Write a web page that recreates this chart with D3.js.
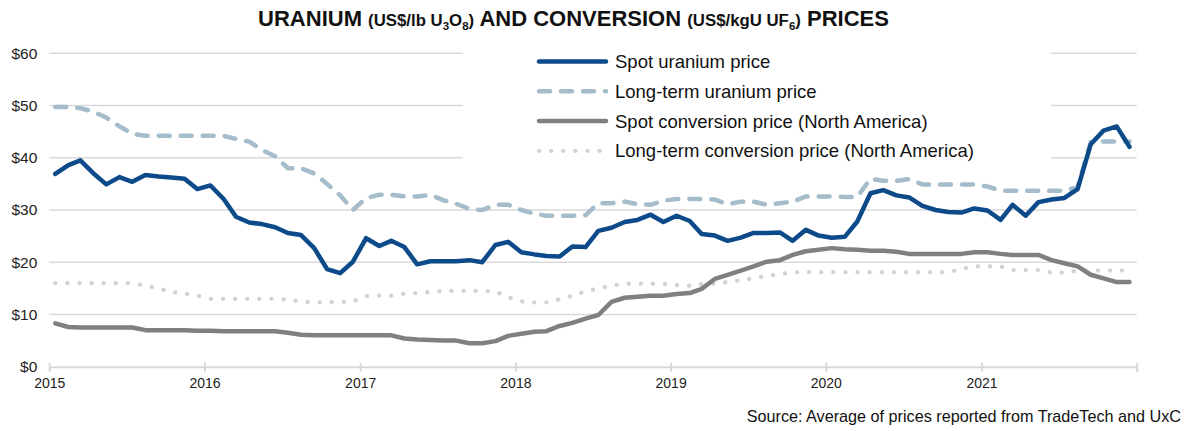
<!DOCTYPE html>
<html>
<head>
<meta charset="utf-8">
<script src="https://cdn.jsdelivr.net/npm/d3@7"></script>
<style>
    body { margin: 0; background: #fff; }
    svg { display: block; font-family: 'Liberation Sans', Arial, sans-serif; }
    .grid line { stroke: #d9d9d9; stroke-width: 1.5; }
    .axis-x path, .axis-x line { stroke: #d9d9d9; stroke-width: 2; }
    .axis-x text { font-size: 14px; fill: #222; }
    .axis-y text { font-size: 15.5px; fill: #222; }
    .line_spot_u { fill: none; stroke: #0d4a8a; stroke-width: 4.5; stroke-linejoin: round; stroke-linecap: round; }
    .line_lt_u { fill: none; stroke: #a5bccb; stroke-width: 4.5; stroke-dasharray: 11 11; stroke-linecap: round; }
    .line_spot_c { fill: none; stroke: #808080; stroke-width: 4.5; stroke-linejoin: round; stroke-linecap: round; }
    .line_lt_c { fill: none; stroke: #d2d2d2; stroke-width: 4.3; stroke-dasharray: 0.1 12; stroke-linecap: round; }
</style>
</head>
<body>
<svg id="chart" width="1193" height="431"></svg>
<script>
// Monthly prices, Jan 2015 - Dec 2021
const startYear = 2015;
const yearLabels = ['2015', '2016', '2017', '2018', '2019', '2020', '2021'];
const yTicks = [0, 10, 20, 30, 40, 50, 60];

const spotUranium = [
    36.9, 38.6, 39.5, 37.0, 34.9, 36.3, 35.4, 36.7, 36.4, 36.2, 36.0, 34.0,
    34.7, 32.1, 28.7, 27.6, 27.3, 26.7, 25.6, 25.2, 22.7, 18.7, 17.9, 20.1,
    24.6, 23.1, 24.1, 22.9, 19.6, 20.2, 20.2, 20.2, 20.4, 20.0, 23.3, 23.9,
    21.9, 21.5, 21.2, 21.1, 23.0, 22.9, 26.0, 26.6, 27.7, 28.1, 29.1, 27.7,
    28.9, 27.9, 25.4, 25.1, 24.1, 24.7, 25.6, 25.6, 25.7, 24.1, 26.2, 25.1,
    24.7, 24.9, 27.8, 33.2, 33.8, 32.8, 32.4, 30.8, 30.0, 29.6, 29.5, 30.3,
    29.9, 28.1, 31.0, 28.9, 31.5, 32.0, 32.3, 34.0, 42.6, 45.2, 46.0, 42.1
];
const longTermUranium = [
    49.7, 49.7, 49.5, 48.8, 47.7, 46.0, 44.6, 44.2, 44.2, 44.2, 44.2, 44.2,
    44.2, 44.2, 43.6, 43.1, 41.5, 40.3, 38.0, 38.0, 37.0, 35.0, 32.8, 30.0,
    32.3, 32.9, 32.9, 32.6, 32.6, 32.9, 31.9, 31.2, 30.2, 30.0, 31.0, 31.0,
    30.0, 29.3, 28.9, 28.9, 28.9, 29.0, 31.3, 31.3, 31.6, 31.1, 31.0, 31.8,
    32.1, 32.1, 32.1, 32.0, 31.1, 31.6, 31.6, 31.0, 31.3, 31.6, 32.6, 32.6,
    32.6, 32.5, 32.5, 36.0, 35.6, 35.6, 35.9, 34.9, 34.9, 34.9, 34.9, 34.9,
    34.5, 33.7, 33.7, 33.7, 33.7, 33.7, 33.7, 34.4, 43.0, 43.1, 43.1, 43.1
];
const spotConversion = [
    8.3, 7.6, 7.5, 7.5, 7.5, 7.5, 7.5, 7.0, 7.0, 7.0, 7.0, 6.9,
    6.9, 6.8, 6.8, 6.8, 6.8, 6.8, 6.5, 6.1, 6.0, 6.0, 6.0, 6.0,
    6.0, 6.0, 6.0, 5.4, 5.2, 5.1, 5.0, 5.0, 4.5, 4.5, 4.9, 5.9,
    6.3, 6.7, 6.8, 7.8, 8.4, 9.2, 9.9, 12.4, 13.2, 13.4, 13.6, 13.6,
    13.9, 14.1, 14.9, 16.8, 17.6, 18.4, 19.2, 20.1, 20.4, 21.4, 22.1, 22.4,
    22.7, 22.5, 22.4, 22.2, 22.2, 22.0, 21.6, 21.6, 21.6, 21.6, 21.6, 21.9,
    21.9, 21.6, 21.4, 21.4, 21.4, 20.4, 19.8, 19.2, 17.6, 16.9, 16.2, 16.2
];
const longTermConversion = [
    16.0, 16.0, 16.0, 16.0, 16.0, 16.0, 16.0, 15.5, 15.0, 14.3, 14.0, 13.6,
    13.0, 13.0, 13.0, 13.0, 13.0, 13.0, 12.8, 12.5, 12.3, 12.3, 12.4, 12.5,
    13.5, 13.6, 13.6, 14.0, 14.1, 14.3, 14.5, 14.5, 14.5, 14.5, 14.4, 13.3,
    12.5, 12.3, 12.3, 12.9, 13.6, 14.4, 15.0, 15.5, 15.9, 15.9, 15.9, 15.9,
    15.6, 15.5, 15.8, 15.9, 16.2, 16.6, 16.9, 17.4, 17.7, 18.1, 18.1, 18.1,
    18.1, 18.1, 18.1, 18.1, 18.1, 18.1, 18.1, 18.1, 18.1, 18.1, 18.7, 19.2,
    19.2, 19.2, 18.5, 18.5, 18.5, 18.0, 18.0, 18.4, 18.4, 18.4, 18.4, 18.4
];

const seriesNames = [
    'Spot uranium price',
    'Long-term uranium price',
    'Spot conversion price (North America)',
    'Long-term conversion price (North America)'
];
const seriesClasses = ['line_spot_u', 'line_lt_u', 'line_spot_c', 'line_lt_c'];

class PriceChart {
    constructor (_parentElement) {
        this.parentElement = _parentElement;
        this.initViz();
    };

    initViz () {
        var viz = this;

        viz.svg = d3.select(viz.parentElement);
        viz.left = 49.3;
        viz.right = 1136.7;
        viz.top = 53.3;
        viz.bottom = 366.7;

        // one row per month, dated mid-month
        viz.data = spotUranium.map((v, i) => ({
            date: new Date(startYear, i, 15),
            spotU: v,
            ltU: longTermUranium[i],
            spotC: spotConversion[i],
            ltC: longTermConversion[i]
        }));

        // Set scales
        viz.xScale = d3.scaleTime()
            .domain([new Date(startYear, 0, 1), new Date(startYear + yearLabels.length, 0, 1)])
            .range([viz.left, viz.right]);
        viz.yScale = d3.scaleLinear().domain([0, 60]).range([viz.bottom, viz.top]);

        // Gridlines
        viz.svg.append('g')
            .attr('class', 'grid')
            .selectAll('line')
            .data(yTicks.filter(d => d > 0))
            .enter().append('line')
                .attr('x1', viz.left)
                .attr('x2', viz.right)
                .attr('y1', d => viz.yScale(d))
                .attr('y2', d => viz.yScale(d));

        // Y labels
        viz.yAxis = viz.svg.append('g')
            .attr('class', 'axis-y')
            .attr('transform', 'translate(' + viz.left + ',0)')
            .call(d3.axisLeft(viz.yScale).tickValues(yTicks).tickSize(0).tickPadding(12)
                .tickFormat(d => '$' + d));
        viz.yAxis.select('.domain').remove();

        // X axis
        viz.xTicks = yearLabels.map(y => new Date(+y, 0, 1))
            .concat([new Date(startYear + yearLabels.length, 0, 1)]);
        viz.xAxis = viz.svg.append('g')
            .attr('class', 'axis-x')
            .attr('transform', `translate(0,${viz.bottom})`)
            .call(d3.axisBottom(viz.xScale).tickValues(viz.xTicks).tickSizeOuter(0).tickSize(5)
                .tickPadding(6)
                .tickFormat((d, i) => i < yearLabels.length ? yearLabels[i] : ''));
        viz.xAxis.selectAll('.tick line').attr('y1', -4);

        // Lines
        const keys = ['spotU', 'ltU', 'spotC', 'ltC'];
        const drawOrder = [3, 2, 1, 0];
        drawOrder.forEach(k => {
            const line = d3.line()
                .x(d => viz.xScale(d.date))
                .y(d => viz.yScale(d[keys[k]]));
            viz.svg.append('path')
                .attr('class', seriesClasses[k])
                .attr('d', line(viz.data));
        });

        // Legend
        viz.legend = viz.svg.append('g').attr('class', 'legend');
        viz.legend.append('rect')
            .attr('x', 463).attr('y', 44)
            .attr('width', 588).attr('height', 122)
            .attr('fill', '#fff');
        seriesNames.forEach((name, i) => {
            const y = 61.5 + i * 29.8;
            viz.legend.append('line')
                .attr('class', seriesClasses[i])
                .attr('x1', 539).attr('x2', i === 3 ? 601 : 606)
                .attr('y1', y).attr('y2', y);
            viz.legend.append('text')
                .attr('x', 615).attr('y', y + 6.5)
                .style('font-size', '18.5px')
                .attr('fill', '#111')
                .text(name);
        });

        // Title
        viz.title = viz.svg.append('text')
            .attr('x', 1193 / 2 - 23)
            .attr('y', 26)
            .attr('text-anchor', 'middle')
            .style('font-weight', 'bold')
            .attr('fill', '#111');
        const big = '22px', small = '16.8px', sub = '11.5px';
        const parts = [
            ['URANIUM ', big, 0], ['(US$/lb U', small, 0], ['3', sub, 4], ['O', small, -4],
            ['8', sub, 4], [')', small, -4], [' AND CONVERSION ', big, 0],
            ['(US$/kgU UF', small, 0], ['6', sub, 4], [')', small, -4], [' PRICES', big, 0]
        ];
        parts.forEach(p => {
            viz.title.append('tspan')
                .style('font-size', p[1])
                .attr('dy', p[2])
                .text(p[0]);
        });

        // Source
        viz.svg.append('text')
            .attr('x', 1181)
            .attr('y', 422)
            .attr('text-anchor', 'end')
            .style('font-size', '16.2px')
            .attr('fill', '#111')
            .text('Source: Average of prices reported from TradeTech and UxC');
    };
}

new PriceChart('#chart');
</script>
</body>
</html>
